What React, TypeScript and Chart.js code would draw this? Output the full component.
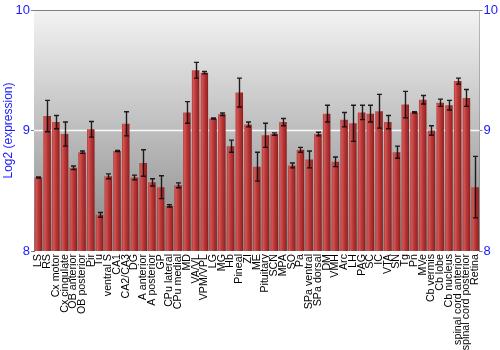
import React, { useEffect, useRef } from "react";
import { Chart, registerables } from "chart.js";

Chart.register(...registerables);

const categories = [
  "LS", "RS", "Cx motor", "Cx cingulate", "OB anterior", "OB posterior", "Pir", "Tu",
  "ventral S", "CA1", "CA2/CA3", "DG", "A anterior", "A posterior", "GP", "CPu lateral",
  "CPu medial", "MD", "VA/VL", "VPM/VPL", "LG", "MG", "Hb", "Pineal", "ZI", "ME",
  "Pituitary", "SCN", "MPA", "SO", "Pa", "SPa ventral", "SPa dorsal", "DM", "VMH", "Arc",
  "LH", "PAG", "SC", "IC", "VTA", "SN", "Tg", "Pn", "MVe", "Cb vermis", "Cb lobe",
  "Cb nucleus", "spinal cord anterior", "spinal cord posterior", "Retina",
];

const values = [
  8.61, 9.12, 9.07, 8.97, 8.69, 8.82, 9.01, 8.3, 8.62, 8.83, 9.055, 8.61, 8.73, 8.57, 8.53,
  8.375, 8.545, 9.15, 9.5, 9.48, 9.1, 9.135, 8.87, 9.315, 9.05, 8.7, 8.96, 8.97, 9.07, 8.71,
  8.84, 8.76, 8.97, 9.14, 8.74, 9.09, 9.06, 9.15, 9.14, 9.16, 9.07, 8.82, 9.215, 9.15, 9.255,
  9.0, 9.23, 9.21, 9.41, 9.27, 8.53,
];

const errors = [
  0.005, 0.13, 0.055, 0.1, 0.015, 0.01, 0.065, 0.02, 0.02, 0.005, 0.1, 0.02, 0.11, 0.03, 0.095,
  0.01, 0.02, 0.09, 0.065, 0.01, 0.005, 0.01, 0.05, 0.12, 0.02, 0.12, 0.1, 0.01, 0.03, 0.02,
  0.02, 0.07, 0.015, 0.07, 0.04, 0.06, 0.15, 0.06, 0.07, 0.14, 0.055, 0.05, 0.11, 0.005, 0.035,
  0.04, 0.03, 0.04, 0.025, 0.07, 0.255,
];

const yTicks = [8, 9, 10];

const FONT = "'Liberation Sans', Arial, sans-serif";
const BAR_PCT = 0.86;

export default function App() {
  const ref = useRef<HTMLCanvasElement>(null);

  useEffect(() => {
    document.body.style.margin = "0";
    const canvas = ref.current!;

    const bgPlugin = {
      id: "bgPlugin",
      beforeDatasetsDraw(chart: any) {
        const { ctx, chartArea: a } = chart;
        const g = ctx.createLinearGradient(0, a.top, 0, a.bottom);
        g.addColorStop(0, "#f3f3f3");
        g.addColorStop(1, "#878787");
        ctx.save();
        ctx.fillStyle = g;
        ctx.fillRect(a.left, a.top, a.right - a.left, a.bottom - a.top);
        const y9 = chart.scales.y.getPixelForValue(9);
        ctx.strokeStyle = "rgba(255,255,255,0.9)";
        ctx.lineWidth = 1.5;
        ctx.beginPath();
        ctx.moveTo(a.left, y9);
        ctx.lineTo(a.right, y9);
        ctx.stroke();
        ctx.restore();
      },
      afterDatasetsDraw(chart: any) {
        const { ctx, chartArea: a } = chart;
        const meta = chart.getDatasetMeta(0);
        const ys = chart.scales.y;
        ctx.save();
        ctx.beginPath();
        ctx.rect(a.left, a.top, a.right - a.left, a.bottom - a.top);
        ctx.clip();
        ctx.strokeStyle = "rgba(10,10,10,0.9)";
        ctx.lineWidth = 1.4;
        meta.data.forEach((el: any, i: number) => {
          const x = Math.round(el.x) + 0.5;
          const hi = ys.getPixelForValue(values[i] + errors[i]);
          const lo = ys.getPixelForValue(values[i] - errors[i]);
          ctx.beginPath();
          ctx.moveTo(x, hi);
          ctx.lineTo(x, lo);
          ctx.moveTo(x - 2.5, hi);
          ctx.lineTo(x + 2.5, hi);
          ctx.moveTo(x - 2.5, lo);
          ctx.lineTo(x + 2.5, lo);
          ctx.stroke();
        });
        ctx.restore();
        ctx.save();
        ctx.strokeStyle = "#808080";
        ctx.lineWidth = 1;
        ctx.beginPath();
        ctx.moveTo(a.left, a.top + 0.5);
        ctx.lineTo(a.right, a.top + 0.5);
        ctx.stroke();
        ctx.restore();
      },
    };

    const barColor = (c: any) => {
      const chart = c.chart;
      const xs = chart.scales && chart.scales.x;
      if (!xs || !chart.chartArea) return "#b83a3a";
      const cx = xs.getPixelForValue(c.dataIndex);
      const w = ((xs.right - xs.left) / categories.length) * BAR_PCT;
      const g = chart.ctx.createLinearGradient(cx - w / 2, 0, cx + w / 2, 0);
      g.addColorStop(0, "#b53a3a");
      g.addColorStop(0.2, "#d05656");
      g.addColorStop(0.5, "#bb3838");
      g.addColorStop(0.85, "#9e2727");
      g.addColorStop(1, "#821b1b");
      return g;
    };

    const chart = new Chart(canvas, {
      type: "bar",
      data: {
        labels: categories,
        datasets: [
          {
            data: values,
            backgroundColor: barColor,
            borderWidth: 0,
            barPercentage: BAR_PCT,
            categoryPercentage: 1,
          },
        ],
      },
      options: {
        animation: false,
        responsive: false,
        maintainAspectRatio: false,
        events: [],
        layout: { padding: { top: 10, left: 0, right: 0, bottom: 0 } },
        plugins: {
          legend: { display: false },
          tooltip: { enabled: false },
        },
        scales: {
          x: {
            grid: { display: false, drawTicks: false },
            border: { display: false },
            ticks: {
              autoSkip: false,
              maxRotation: 90,
              minRotation: 90,
              padding: 3,
              color: "#000",
              font: { family: FONT, size: 10.7 },
            },
            afterFit: (s: any) => {
              s.height = 99;
            },
          },
          y: {
            min: 8,
            max: 10,
            position: "left",
            afterBuildTicks: (s: any) => {
              s.ticks = yTicks.map((v) => ({ value: v }));
            },
            grid: {
              drawOnChartArea: false,
              drawTicks: true,
              tickLength: 3,
              tickColor: "#808080",
            },
            border: { display: true, color: "#808080" },
            ticks: {
              padding: 1,
              color: "#1a1aff",
              font: { family: FONT, size: 13 },
            },
            title: {
              display: true,
              text: "Log2 (expression)",
              color: "#1a1aff",
              font: { family: FONT, size: 12 },
              padding: { top: 1, bottom: 0 },
            },
            afterFit: (s: any) => {
              s.width = 34;
            },
          },
          y2: {
            min: 8,
            max: 10,
            position: "right",
            afterBuildTicks: (s: any) => {
              s.ticks = yTicks.map((v) => ({ value: v }));
            },
            grid: {
              drawOnChartArea: false,
              drawTicks: true,
              tickLength: 3,
              tickColor: "#808080",
            },
            border: { display: true, color: "#808080" },
            ticks: {
              padding: 1,
              color: "#1a1aff",
              font: { family: FONT, size: 13 },
            },
            afterFit: (s: any) => {
              s.width = 20.5;
            },
          },
        },
      },
      plugins: [bgPlugin],
    });

    return () => chart.destroy();
  }, []);

  return (
    <div style={{ width: 500, height: 350 }}>
      <canvas ref={ref} width={500} height={350} style={{ display: "block" }} />
    </div>
  );
}
